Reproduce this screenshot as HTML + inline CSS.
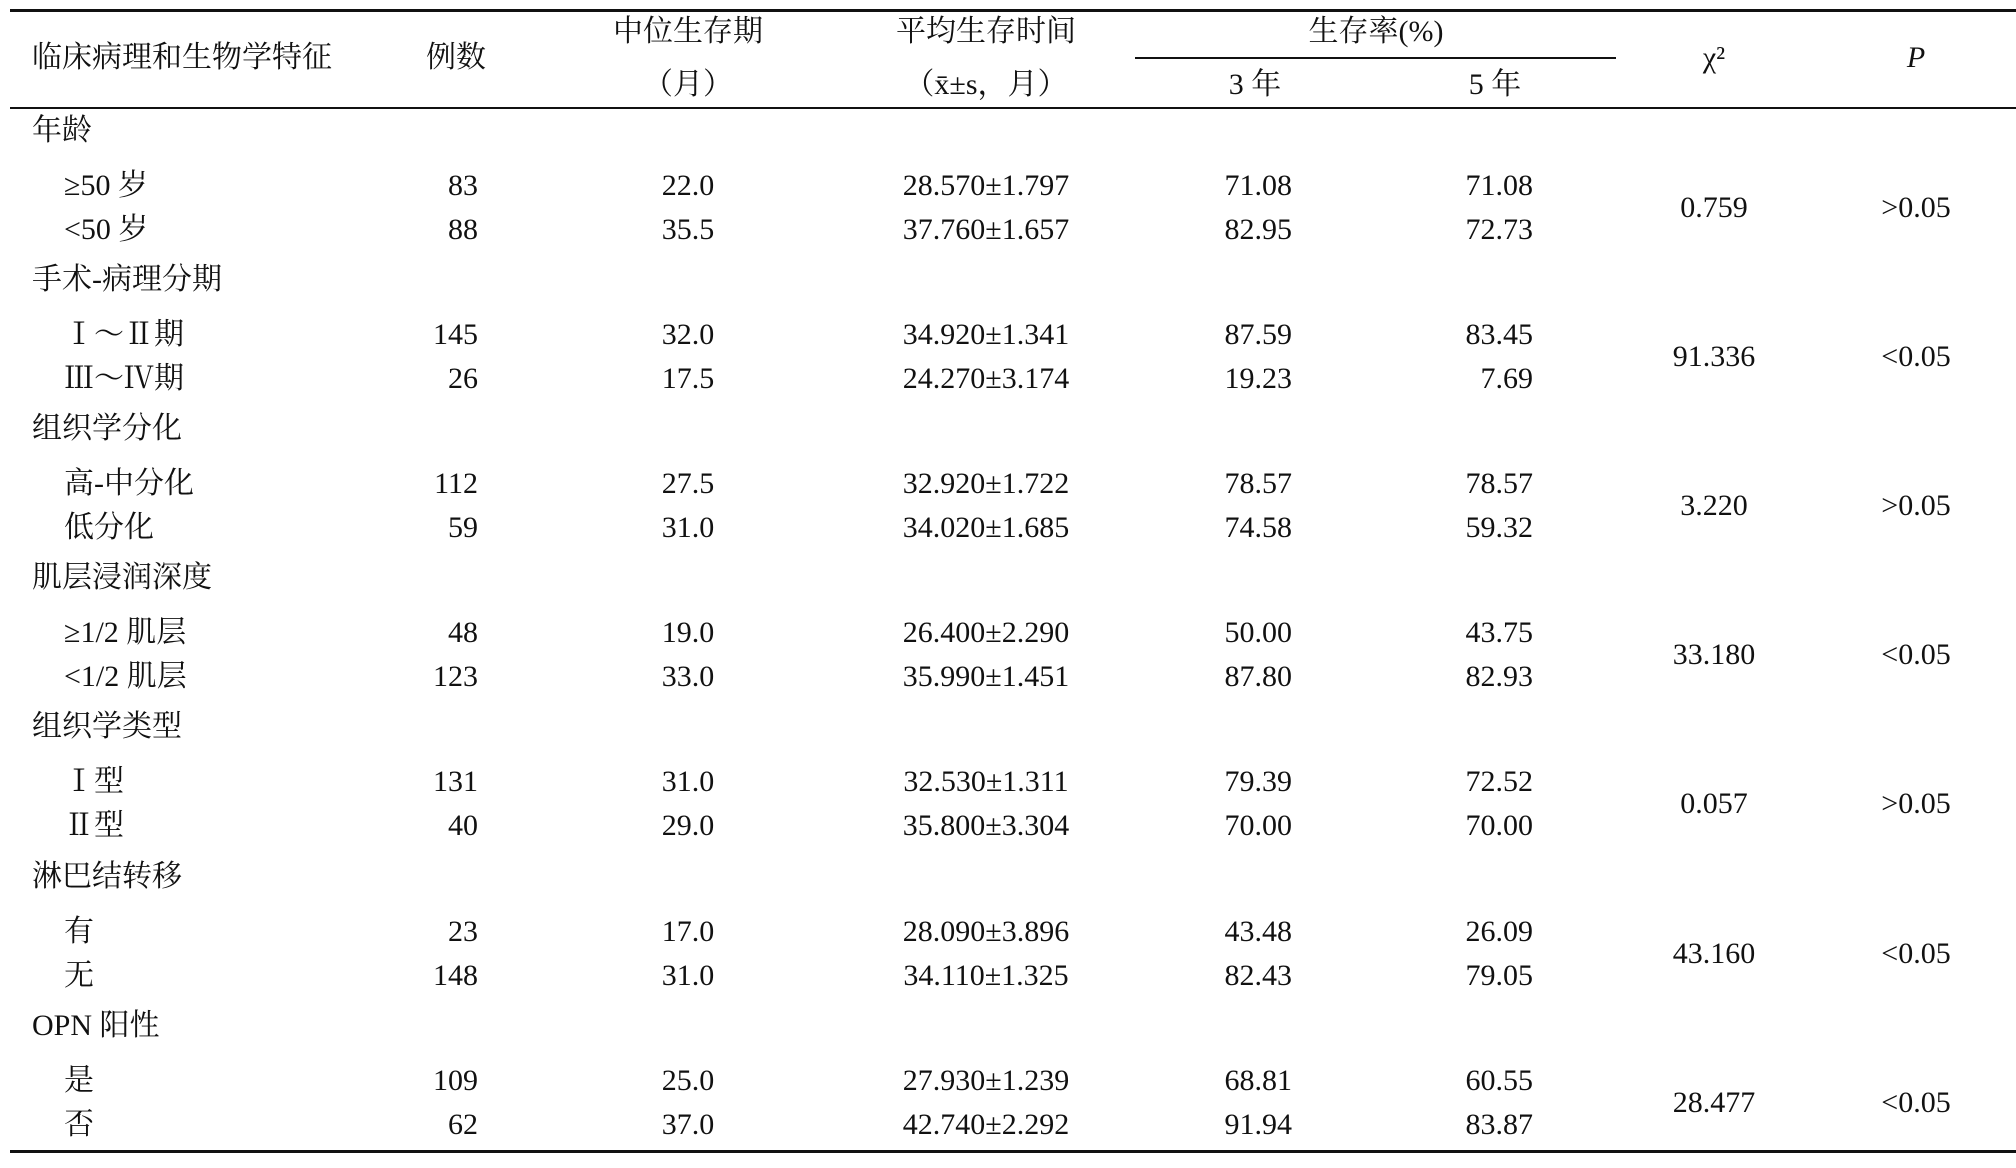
<!DOCTYPE html>
<html><head><meta charset="utf-8">
<style>
body{margin:0;background:#fff;}
#t{position:relative;width:2016px;height:1168px;overflow:hidden;background:#fff;font-family:"Liberation Serif","Noto Serif CJK SC",serif;color:#111;font-size:30px;}
.c{position:absolute;height:40px;line-height:40px;white-space:nowrap;}
.ln{position:absolute;background:#111;}
</style></head><body>
<div id="t">
<div class="ln" style="left:10px;width:2006px;top:9px;height:3px"></div>
<div class="ln" style="left:1135px;width:481px;top:57px;height:2px"></div>
<div class="ln" style="left:10px;width:2006px;top:107px;height:2px"></div>
<div class="ln" style="left:10px;width:2006px;top:1150px;height:3px"></div>
</div>
<script>
const headers=[["临床病理和生物学特征",32,58,"l"],["例数",456,58,"c"],["中位生存期",688,32,"c"],["（月）",688,85,"c"],["平均生存时间",986,32,"c"],["（x̄±s，月）",986,85,"c"],["生存率(%)",1376,32,"c"],["3 年",1255,85,"c"],["5 年",1495,85,"c"],["χ²",1714,58,"c"],["P",1916,58,"c"]];
const groups=["年龄","手术-病理分期","组织学分化","肌层浸润深度","组织学类型","淋巴结转移","OPN 阳性"];
const subs=[["≥50 岁","<50 岁"],["Ⅰ～Ⅱ期","Ⅲ～Ⅳ期"],["高-中分化","低分化"],["≥1/2 肌层","<1/2 肌层"],["Ⅰ型","Ⅱ型"],["有","无"],["是","否"]];
const counts=[[83,88],[145,26],[112,59],[48,123],[131,40],[23,148],[109,62]];
const medians=[["22.0","35.5"],["32.0","17.5"],["27.5","31.0"],["19.0","33.0"],["31.0","29.0"],["17.0","31.0"],["25.0","37.0"]];
const means=[["28.570±1.797","37.760±1.657"],["34.920±1.341","24.270±3.174"],["32.920±1.722","34.020±1.685"],["26.400±2.290","35.990±1.451"],["32.530±1.311","35.800±3.304"],["28.090±3.896","34.110±1.325"],["27.930±1.239","42.740±2.292"]];
const rate3=[["71.08","82.95"],["87.59","19.23"],["78.57","74.58"],["50.00","87.80"],["79.39","70.00"],["43.48","82.43"],["68.81","91.94"]];
const rate5=[["71.08","72.73"],["83.45","7.69"],["78.57","59.32"],["43.75","82.93"],["72.52","70.00"],["26.09","79.05"],["60.55","83.87"]];
const chi=["0.759","91.336","3.220","33.180","0.057","43.160","28.477"];
const pv=[">0.05","<0.05",">0.05","<0.05",">0.05","<0.05","<0.05"];
const T=document.getElementById('t');
function cell(txt,x,y,al,name){
 const d=document.createElement('div');d.className='c';d.textContent=txt;
 
 
 d.style.top=(y-20)+'px';
 if(al==='l'){d.style.left=x+'px';}
 else if(al==='r'){d.style.right=(2016-x)+'px';}
 else{d.style.left=(x-300)+'px';d.style.width='600px';d.style.textAlign='center';}
 T.appendChild(d);return d;
}
headers.forEach(h=>{const d=cell(h[0],h[1],h[2],h[3],'header-cell');if(h[0]==='P')d.style.fontStyle='italic';});
const G0=131,GS=149.1;
groups.forEach((g,i)=>{
 const gy=G0+i*GS;
 cell(g,32,gy,'l','group-label');
 for(let j=0;j<2;j++){
  const y=gy+55+j*44;
  cell(subs[i][j],64,y,'l','row-label');
  cell(String(counts[i][j]),478,y,'r','count-value');
  cell(medians[i][j],688,y,'c','median-value');
  cell(means[i][j],986,y,'c','mean-value');
  cell(rate3[i][j],1292,y,'r','rate3-value');
  cell(rate5[i][j],1533,y,'r','rate5-value');
 }
 cell(chi[i],1714,gy+77,'c','chi-value');
 cell(pv[i],1916,gy+77,'c','p-value');
});
</script>
</body></html>
